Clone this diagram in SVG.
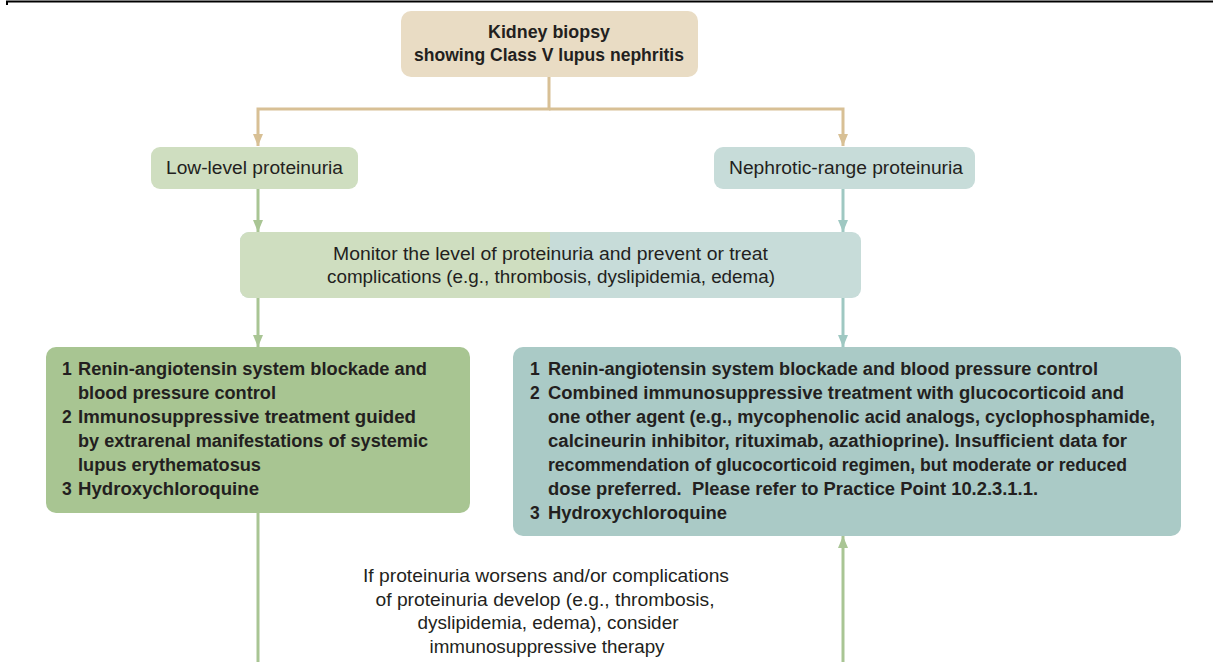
<svg xmlns="http://www.w3.org/2000/svg" width="1213" height="662" viewBox="0 0 1213 662">
<defs>
<style>
.t{font-family:"Liberation Sans",Arial,sans-serif;font-size:17.5px;fill:#231f20}
.b{font-weight:bold}
.c{text-anchor:middle}
.bl{stroke:#d8c095;stroke-width:3;fill:none}
.gl{stroke:#a9c594;stroke-width:3;fill:none}
.tl{stroke:#9fc8c2;stroke-width:3;fill:none}
</style>
<marker id="ab" markerWidth="12" markerHeight="10" refX="12" refY="5" orient="auto" markerUnits="userSpaceOnUse"><path d="M0,0 L12,5 L0,10 Z" fill="#d8c095"/></marker>
<marker id="ag" markerWidth="12" markerHeight="10" refX="12" refY="5" orient="auto" markerUnits="userSpaceOnUse"><path d="M0,0 L12,5 L0,10 Z" fill="#a9c594"/></marker>
<marker id="at" markerWidth="12" markerHeight="10" refX="12" refY="5" orient="auto" markerUnits="userSpaceOnUse"><path d="M0,0 L12,5 L0,10 Z" fill="#9fc8c2"/></marker>
</defs>
<rect width="1213" height="662" fill="#ffffff"/>
<path d="M7,5 V1.5 H1213" stroke="#000" stroke-width="2" fill="none"/>

<g id="connectors">
<path class="bl" d="M549,77 V109 H258 V146" marker-end="url(#ab)"/>
<path class="bl" d="M549,109 H843 V146" marker-end="url(#ab)"/>
<path class="gl" d="M258,189 V232" marker-end="url(#ag)"/>
<path class="tl" d="M843,189 V232" marker-end="url(#at)"/>
<path class="gl" d="M258,298 V347" marker-end="url(#ag)"/>
<path class="tl" d="M843,298 V347" marker-end="url(#at)"/>
<path class="gl" d="M258,513 V662"/>
<path class="gl" d="M843,662 V536" marker-end="url(#ag)"/>
</g>

<g id="biopsy">
<rect x="401" y="11" width="297" height="66" rx="10" fill="#e9dcc4"/>
<text class="t b c" x="549" y="38" textLength="122" lengthAdjust="spacingAndGlyphs">Kidney biopsy</text>
<text class="t b c" x="549" y="61" textLength="270" lengthAdjust="spacingAndGlyphs">showing Class V lupus nephritis</text>
</g>

<g id="low">
<rect x="151" y="147" width="207" height="42" rx="9" fill="#cfdec0"/>
<text class="t" x="166" y="174" textLength="177" lengthAdjust="spacingAndGlyphs">Low-level proteinuria</text>
</g>

<g id="nephrotic">
<rect x="714" y="147" width="261" height="42" rx="9" fill="#c7dcd9"/>
<text class="t" x="729" y="174" textLength="234" lengthAdjust="spacingAndGlyphs">Nephrotic-range proteinuria</text>
</g>

<g id="monitor">
<rect x="240" y="232" width="621" height="66" rx="9" fill="#c7dcd9"/>
<path d="M249,232 H550 V298 H249 A9,9 0 0 1 240,289 V241 A9,9 0 0 1 249,232 Z" fill="#cfdec0"/>
<text class="t" x="333" y="260" textLength="435" lengthAdjust="spacingAndGlyphs">Monitor the level of proteinuria and prevent or treat</text>
<text class="t" x="327" y="283" textLength="448" lengthAdjust="spacingAndGlyphs">complications (e.g., thrombosis, dyslipidemia, edema)</text>
</g>

<g id="low-treatment">
<rect x="46" y="347" width="424" height="166" rx="10" fill="#a8c592"/>
<text class="t b" x="62" y="375">1</text>
<text class="t b" x="78" y="375" textLength="349" lengthAdjust="spacingAndGlyphs">Renin-angiotensin system blockade and</text>
<text class="t b" x="78" y="399" textLength="198" lengthAdjust="spacingAndGlyphs">blood pressure control</text>
<text class="t b" x="62" y="423">2</text>
<text class="t b" x="78" y="423" textLength="338" lengthAdjust="spacingAndGlyphs">Immunosuppressive treatment guided</text>
<text class="t b" x="78" y="447" textLength="350" lengthAdjust="spacingAndGlyphs">by extrarenal manifestations of systemic</text>
<text class="t b" x="78" y="471" textLength="183" lengthAdjust="spacingAndGlyphs">lupus erythematosus</text>
<text class="t b" x="62" y="495">3</text>
<text class="t b" x="78" y="495" textLength="181" lengthAdjust="spacingAndGlyphs">Hydroxychloroquine</text>
</g>

<g id="nephrotic-treatment">
<rect x="513" y="347" width="668" height="189" rx="10" fill="#aacac6"/>
<text class="t b" x="530" y="375">1</text>
<text class="t b" x="548" y="375" textLength="550" lengthAdjust="spacingAndGlyphs">Renin-angiotensin system blockade and blood pressure control</text>
<text class="t b" x="530" y="399">2</text>
<text class="t b" x="548" y="399" textLength="576" lengthAdjust="spacingAndGlyphs">Combined immunosuppressive treatment with glucocorticoid and</text>
<text class="t b" x="548" y="423" textLength="607" lengthAdjust="spacingAndGlyphs">one other agent (e.g., mycophenolic acid analogs, cyclophosphamide,</text>
<text class="t b" x="548" y="447" textLength="579" lengthAdjust="spacingAndGlyphs">calcineurin inhibitor, rituximab, azathioprine). Insufficient data for</text>
<text class="t b" x="548" y="471" textLength="579" lengthAdjust="spacingAndGlyphs">recommendation of glucocorticoid regimen, but moderate or reduced</text>
<text class="t b" x="548" y="495" textLength="490" lengthAdjust="spacingAndGlyphs" xml:space="preserve">dose preferred.  Please refer to Practice Point 10.2.3.1.1.</text>
<text class="t b" x="530" y="519">3</text>
<text class="t b" x="548" y="519" textLength="179" lengthAdjust="spacingAndGlyphs">Hydroxychloroquine</text>
</g>

<g id="note">
<text class="t c" x="546" y="582" textLength="366" lengthAdjust="spacingAndGlyphs">If proteinuria worsens and/or complications</text>
<text class="t c" x="545" y="606" textLength="339" lengthAdjust="spacingAndGlyphs">of proteinuria develop (e.g., thrombosis,</text>
<text class="t c" x="548" y="629" textLength="261" lengthAdjust="spacingAndGlyphs">dyslipidemia, edema), consider</text>
<text class="t c" x="547" y="653" textLength="235" lengthAdjust="spacingAndGlyphs">immunosuppressive therapy</text>
</g>
</svg>
